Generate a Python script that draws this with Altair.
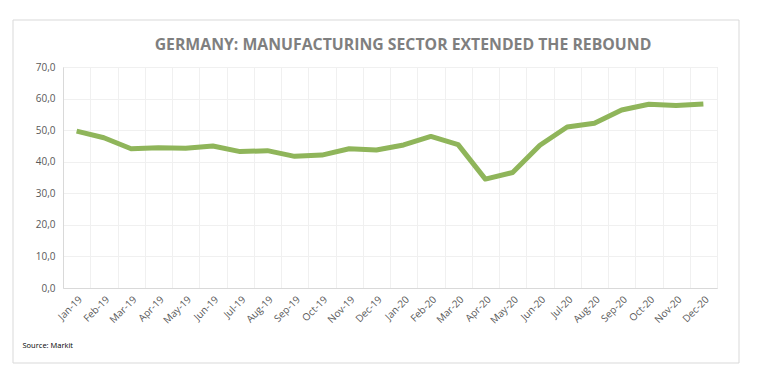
import altair as alt
import pandas as pd

months = ["Jan-19", "Feb-19", "Mar-19", "Apr-19", "May-19", "Jun-19", "Jul-19", "Aug-19",
          "Sep-19", "Oct-19", "Nov-19", "Dec-19", "Jan-20", "Feb-20", "Mar-20", "Apr-20",
          "May-20", "Jun-20", "Jul-20", "Aug-20", "Sep-20", "Oct-20", "Nov-20", "Dec-20"]
pmi = [49.7, 47.6, 44.1, 44.4, 44.3, 45.0, 43.2, 43.5, 41.7, 42.1, 44.1, 43.7,
       45.3, 48.0, 45.4, 34.5, 36.6, 45.2, 51.0, 52.2, 56.4, 58.2, 57.8, 58.3]
y_ticks = [0, 10, 20, 30, 40, 50, 60, 70]
title_text = "GERMANY: MANUFACTURING SECTOR EXTENDED THE REBOUND"
source_text = "Source: Markit"

df = pd.DataFrame({"month": months, "pmi": pmi})
one = pd.DataFrame({"t": [title_text]})

frame = alt.Chart(one).mark_rect(fill=None, stroke="#d9d9d9", strokeWidth=1).encode(
    x=alt.value(-50), x2=alt.value(676), y=alt.value(-47), y2=alt.value(296)
)

title = alt.Chart(one).mark_text(
    font="Open Sans", fontSize=15.8, fontWeight="bold", color="#7f7f7f",
    align="center", baseline="middle"
).encode(x=alt.value(340), y=alt.value(-22), text="t:N")

line = alt.Chart(df).mark_line(color="#8fb55a", strokeWidth=5, strokeJoin="round").encode(
    x=alt.X("month:N", sort=months,
            scale=alt.Scale(type="band", paddingInner=0, paddingOuter=0),
            axis=alt.Axis(title=source_text, titleX=-41, titleY=57, titleAlign="left",
                          titleBaseline="middle", titleFontSize=7.5, titleFontWeight="normal",
                          titleColor="#000000", titleFont="Open Sans",
                          labelAngle=-45, labelFontSize=10, labelColor="#595959",
                          labelFont="Open Sans", labelPadding=6,
                          ticks=False, tickBand="extent", grid=True, gridColor="#f0f0f0",
                          domainColor="#d9d9d9", labelOverlap=False)),
    y=alt.Y("pmi:Q", scale=alt.Scale(domain=[0, 70], nice=False),
            axis=alt.Axis(title=None, values=y_ticks,
                          labelExpr="replace(format(datum.value, '.1f'), '.', ',')",
                          labelFontSize=10, labelColor="#595959", labelFont="Open Sans",
                          labelPadding=8, ticks=False, gridColor="#f0f0f0",
                          domainColor="#d9d9d9")),
)

chart = alt.layer(frame, line, title).properties(
    width=654, height=221,
    padding={"left": 55, "top": 59, "right": 30, "bottom": 90},
    autosize=alt.AutoSizeParams(type="none"),
).configure_view(stroke=None).configure(background="white")

chart.save("out.html", embed_options={"renderer": "svg", "actions": False})
